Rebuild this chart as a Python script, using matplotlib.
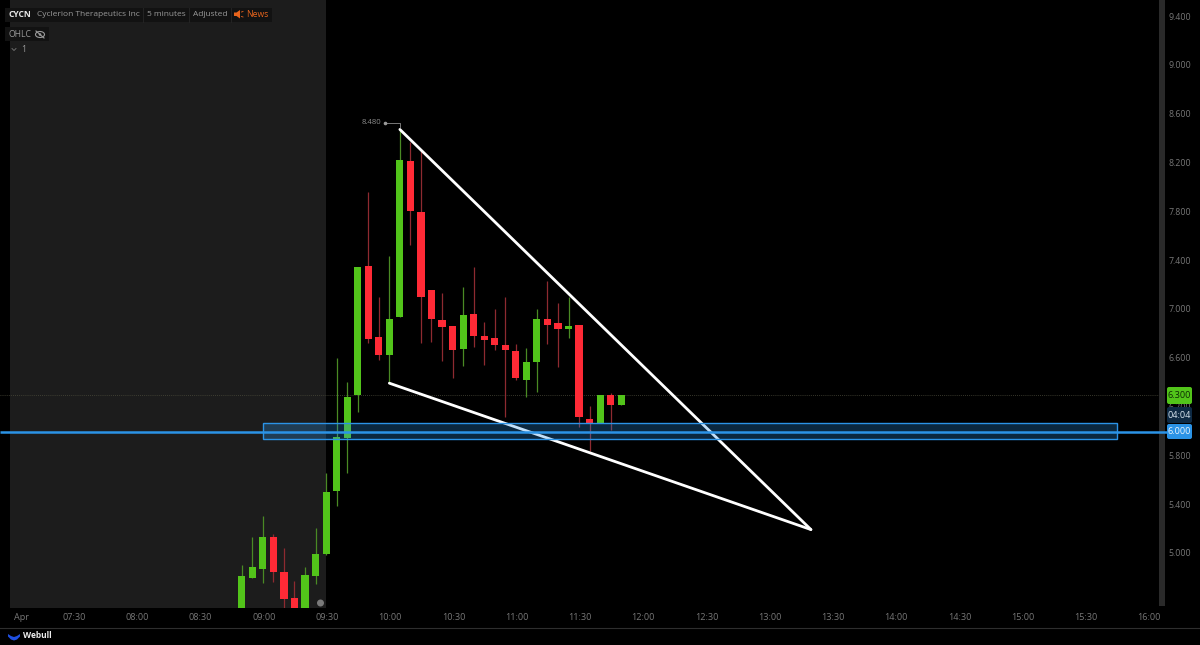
import matplotlib
matplotlib.use("Agg")
import matplotlib.pyplot as plt
from matplotlib.patches import Rectangle, FancyBboxPatch, Circle, Ellipse, Polygon

plt.rcParams['font.family'] = ['Open Sans', 'DejaVu Sans']

# --- data -------------------------------------------------------------
times = ["08:50","08:55","09:00","09:05","09:10","09:15","09:20","09:25","09:30","09:35",
         "09:40","09:45","09:50","09:55","10:00","10:05","10:10","10:15","10:20","10:25",
         "10:30","10:35","10:40","10:45","10:50","10:55","11:00","11:05","11:10","11:15",
         "11:20","11:25","11:30","11:35","11:40","11:45","11:50"]
opens  = [4.50,4.80,4.88,5.14,4.85,4.64,4.50,4.82,5.00,5.52,
          5.95,6.30,7.36,6.78,6.63,6.94,8.22,7.80,7.16,6.92,
          6.87,6.68,6.97,6.79,6.77,6.71,6.66,6.43,6.57,6.93,
          6.89,6.84,6.88,6.11,6.07,6.30,6.22]
highs  = [4.91,5.14,5.31,5.16,5.05,4.78,4.89,5.21,5.66,6.61,
          6.41,7.35,7.97,7.11,7.44,8.48,8.38,8.30,7.16,7.14,
          6.87,7.19,7.35,6.90,7.01,7.11,6.72,6.69,7.01,7.24,
          7.06,7.11,6.88,6.21,6.30,6.32,6.30]
lows   = [4.50,4.80,4.76,4.77,4.50,4.50,4.50,4.75,4.99,5.39,
          5.66,6.16,6.73,6.59,6.41,6.94,7.53,6.73,6.74,6.58,
          6.44,6.54,6.70,6.55,6.67,6.12,6.43,6.29,6.33,6.72,
          6.53,6.77,6.04,5.84,6.07,6.02,6.22]
closes = [4.82,4.89,5.14,4.85,4.63,4.50,4.83,5.00,5.51,5.96,
          6.29,7.35,6.76,6.63,6.93,8.23,7.81,7.11,6.93,6.86,
          6.67,6.96,6.79,6.75,6.71,6.67,6.44,6.57,6.93,6.88,
          6.84,6.87,6.12,6.07,6.30,6.22,6.30]

x_tick_labels = ["07:30","08:00","08:30","09:00","09:30","10:00","10:30","11:00","11:30",
                 "12:00","12:30","13:00","13:30","14:00","14:30","15:00","15:30","16:00"]
y_ticks = [9.4,9.0,8.6,8.2,7.8,7.4,7.0,6.6,6.2,5.8,5.4,5.0]

wedge_upper_t = ["10:05","13:20"]
wedge_upper_p = [8.48,5.20]
wedge_lower_t = ["10:00","13:20"]
wedge_lower_p = [6.40,5.20]
zone_t = ["09:00","15:45"]
zone_p = [5.94,6.07]
support_price = 6.0
last_price = 6.3
session_open = "09:30"
premarket_start = "07:00"

def mins(s):
    h, m = s.split(":")
    return int(h)*60 + int(m)

GREEN, RED = "#52c41a", "#ff2a36"
GREEN_W, RED_W = "#4a8a24", "#8e2a30"
BLUE = "#2b93e6"
GREY = "#8a8a8a"

fig = plt.figure(figsize=(12, 6.45), dpi=100, facecolor="black")
ax = fig.add_axes([0, 1-608/645, 1160/1200, 608/645], facecolor="black")
ax.set_xlim(415.3, 965.6)
ax.set_ylim(4.557, 9.541)
ax.axis("off")

ax.axvspan(mins(premarket_start), mins(session_open), color="#1c1c1c", lw=0, zorder=0)

# candles
for t, o, h, l, c in zip(times, opens, highs, lows, closes):
    x = mins(t)
    up = c >= o
    ax.plot([x, x], [l, h], color=GREEN_W if up else RED_W, lw=0.9, zorder=2, solid_capstyle="butt")
    ax.bar(x, abs(c-o), bottom=min(o, c), width=3.4, color=GREEN if up else RED, lw=0, zorder=3)

# last-price dotted line
ax.axhline(last_price, color="#4a4a3a", lw=0.6, ls=(0, (1, 1.5)), zorder=1)

# wedge lines
ax.plot([mins(t) for t in wedge_upper_t], wedge_upper_p, color="white", lw=2.0, zorder=5, solid_capstyle="round")
ax.plot([mins(t) for t in wedge_lower_t], wedge_lower_p, color="white", lw=2.0, zorder=5, solid_capstyle="round")

# zone
ax.add_patch(Rectangle((mins(zone_t[0]), zone_p[0]), mins(zone_t[1])-mins(zone_t[0]), zone_p[1]-zone_p[0],
                       facecolor="#2b93e6", alpha=0.28, lw=0, zorder=5.5))
ax.add_patch(Rectangle((mins(zone_t[0]), zone_p[0]), mins(zone_t[1])-mins(zone_t[0]), zone_p[1]-zone_p[0],
                       fill=False, edgecolor=BLUE, lw=1.0, zorder=6))

# high annotation
hx = mins("10:05")
ax.plot([hx-7, hx, hx], [8.48+0.055, 8.48+0.055, 8.50], color="#777777", lw=0.7, zorder=4)
ax.plot([hx-7], [8.48+0.055], marker="o", ms=1.6, color="#999999", zorder=4)
ax.text(hx-8.6, 8.48+0.055, "8.480", color=GREY, fontsize=5.6, ha="right", va="center", zorder=4)

# chrome overlay in pixels
ov = fig.add_axes([0, 0, 1, 1], facecolor="none")
ov.set_xlim(0, 1200); ov.set_ylim(645, 0); ov.axis("off")

ov.add_patch(Rectangle((1159, 0), 6, 606, facecolor="#2a2a2a", lw=0))
ov.plot([0, 1200], [627.5, 627.5], color="#2e2e2e", lw=0.8)

# support line runs across the price-strip up to its tag
sy = 554 - (support_price-5)*122
ov.plot([0, 1168], [sy, sy], color=BLUE, lw=1.8, zorder=4, solid_capstyle="butt")

# y tick labels
for p in y_ticks:
    y = 554 - (p-5)*122
    ov.text(1179.5, y, f"{p:.3f}", color="#777777", fontsize=6.3, ha="center", va="center")

# x labels
ov.text(21, 618, "Apr", color="#777777", fontsize=6.6, ha="center", va="center")
for lab in x_tick_labels:
    x = 390.2 + (mins(lab)-600)*2.108
    ov.text(x, 618, lab, color="#777777", fontsize=6.6, ha="center", va="center")

# price tags
def tag(y0, y1, fc, text, tc):
    ov.add_patch(FancyBboxPatch((1167, y0), 25, y1-y0, boxstyle="round,pad=0,rounding_size=2",
                                facecolor=fc, lw=0, zorder=5, mutation_aspect=1))
    ov.text(1179.5, (y0+y1)/2, text, color=tc, fontsize=6.6, ha="center", va="center", zorder=6)
tag(387, 404, "#52c41a", "6.300", "#0c2a04")
tag(407, 423, "#0e2a44", "04:04", "#d8e4ee")
tag(424, 439, "#2b93e6", "6.000", "#eaf4fc")

# header
ov.add_patch(Rectangle((5, 8), 267, 14, facecolor="#121212", lw=0))
ov.add_patch(Rectangle((5, 27), 44, 14, facecolor="#121212", lw=0))
for xs in (143, 189, 231):
    ov.plot([xs, xs], [8, 22], color="#242424", lw=0.7)
ov.text(8.5, 14.5, "CYCN", color="#e8e8e8", fontsize=6.1, weight="bold", ha="left", va="center")
ov.text(37, 14.5, "Cyclerion Therapeutics Inc", color="#9a9a9a", fontsize=6.0, ha="left", va="center")
ov.text(147, 14.5, "5 minutes", color="#9a9a9a", fontsize=6.0, ha="left", va="center")
ov.text(193, 14.5, "Adjusted", color="#9a9a9a", fontsize=6.0, ha="left", va="center")
ov.add_patch(Polygon([[234, 12.5], [236.5, 12.5], [240, 10], [240, 18.5], [236.5, 16], [234, 16]],
                     facecolor="#e8641c", lw=0))
ov.plot([241.5, 243], [12, 11.5], color="#e8641c", lw=0.6)
ov.plot([241.5, 243], [16.5, 17], color="#e8641c", lw=0.6)
ov.text(246.5, 14.5, "News", color="#e8641c", fontsize=6.2, ha="left", va="center")
ov.text(8.5, 34.5, "OHLC", color="#9a9a9a", fontsize=6.2, ha="left", va="center")
ov.add_patch(Ellipse((40, 34.5), 9, 6, fill=False, edgecolor="#9a9a9a", lw=0.8))
ov.add_patch(Circle((40, 34.5), 1.3, facecolor="#9a9a9a", lw=0))
ov.plot([36, 44], [31, 38], color="#9a9a9a", lw=0.8)
ov.plot([12, 14, 16], [48.5, 50.5, 48.5], color="#777777", lw=0.6)
ov.text(21, 49.5, "1", color="#9a9a9a", fontsize=6.2, ha="left", va="center")

# session dot
ov.add_patch(Circle((320.5, 603), 3.5, facecolor="#7a7a7a", lw=0, zorder=5))

# webull footer
ov.add_patch(Polygon([[8, 634], [11, 636], [14, 637], [17, 636], [20, 634], [20, 636.5], [17, 639.5],
                      [14, 640.5], [11, 639.5], [8, 636.5]], facecolor="#1f4fe0", lw=0))
ov.text(23, 636, "Webull", color="#ececec", fontsize=6.0, weight="bold", ha="left", va="center")

fig.savefig("out.png", dpi=100, facecolor="black")
